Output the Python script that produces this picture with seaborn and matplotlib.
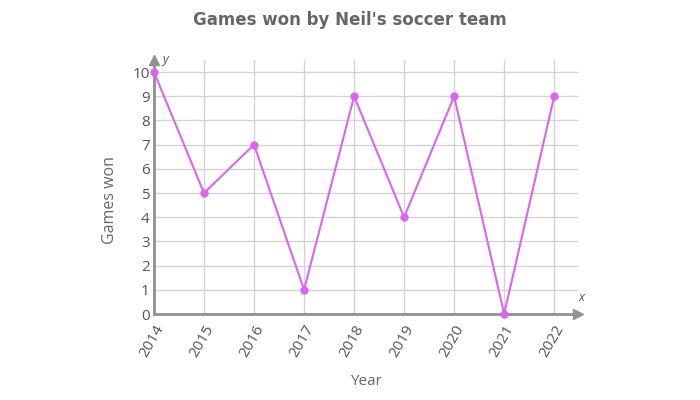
import pandas as pd
import matplotlib
matplotlib.use('agg')
import matplotlib.pyplot as plt
import seaborn as sns

years = [2014, 2015, 2016, 2017, 2018, 2019, 2020, 2021, 2022]
games_won = [10, 5, 7, 1, 9, 4, 9, 0, 9]
y_ticks = list(range(0, 11))

df = pd.DataFrame({'Year': years, 'Games won': games_won})

sns.set_style('white')
plt.rcParams['font.family'] = ['Open Sans', 'DejaVu Sans']

fig = plt.figure(figsize=(7, 4), dpi=100)
ax = fig.add_axes([0.22, 0.215, 0.606, 0.635])

sns.lineplot(data=df, x='Year', y='Games won', ax=ax, color='#d966ee',
             linewidth=1.5, marker='o', markersize=6, markeredgewidth=0,
             zorder=5, clip_on=False)

ax.set_xlim(2014, 2022.48)
ax.set_ylim(0, 10.5)
ax.set_xticks(years)
ax.set_xticklabels([str(y) for y in years], rotation=60, ha='right',
                   rotation_mode='anchor')
ax.set_yticks(y_ticks)
ax.grid(True, color='#d4d4d4', linewidth=1)
ax.tick_params(axis='both', colors='#555555', labelsize=11, length=0, pad=3)
ax.tick_params(axis='x', pad=6)

for side in ['top', 'right']:
    ax.spines[side].set_visible(False)
for side in ['left', 'bottom']:
    ax.spines[side].set_color('#909090')
    ax.spines[side].set_linewidth(2)

# axis arrows
ax.plot(1, 0, '>', color='#909090', markersize=7, transform=ax.transAxes, clip_on=False)
ax.plot(0, 1, '^', color='#909090', markersize=7, transform=ax.transAxes, clip_on=False)
ax.text(1.0, 0.05, 'x', transform=ax.transAxes, fontstyle='italic',
        color='#555555', fontsize=9, ha='left')
ax.text(0.02, 1.0, 'y', transform=ax.transAxes, fontstyle='italic',
        color='#555555', fontsize=9, va='center')

ax.set_xlabel('Year', color='#666666', fontsize=11, labelpad=10)
ax.set_ylabel('Games won', color='#666666', fontsize=11.5)
ax.yaxis.set_label_coords(-0.085, 0.45)

fig.text(0.5, 0.95, "Games won by Neil's soccer team", ha='center', va='center',
         fontsize=12, fontweight='bold', color='#666666', family='DejaVu Sans')

plt.savefig('out.png', dpi=100)
